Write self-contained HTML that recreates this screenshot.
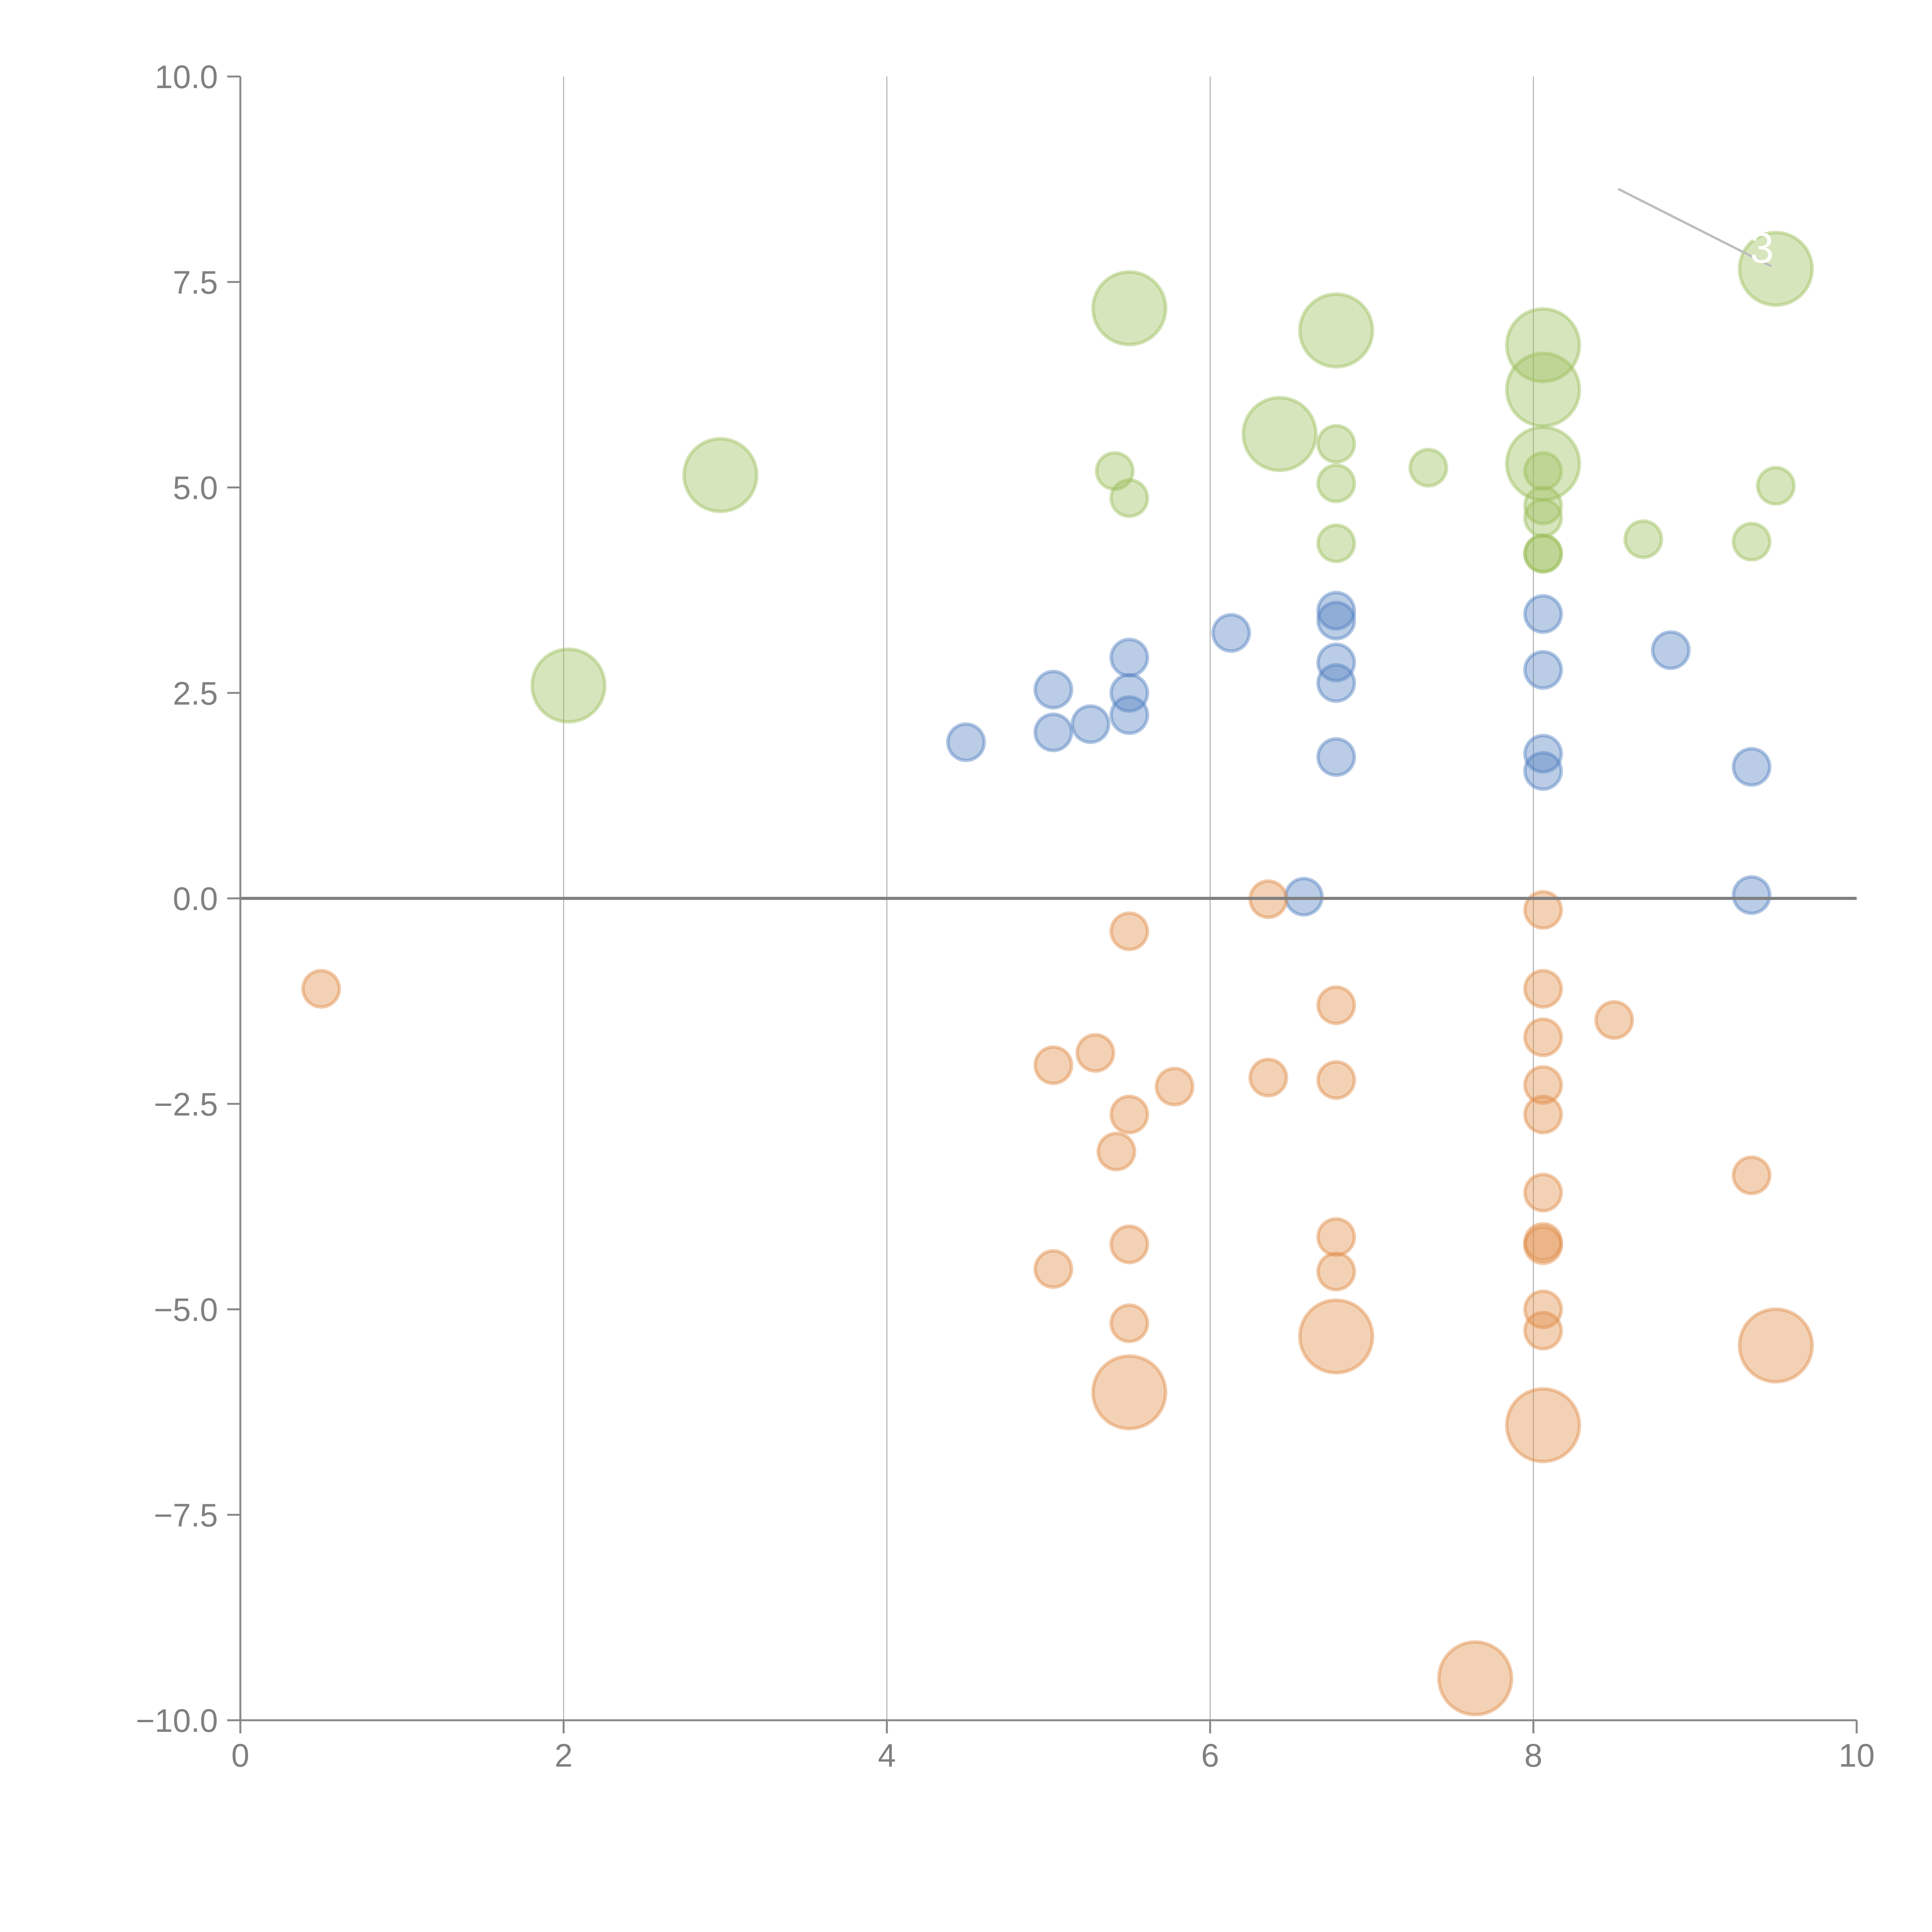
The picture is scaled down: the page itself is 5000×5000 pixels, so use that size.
<!DOCTYPE html>
<html><head><meta charset="utf-8"><style>
html,body{margin:0;padding:0;background:#fff;}
svg{display:block;}
text{font-family:"Liberation Sans",Arial,sans-serif;}
</style></head><body>
<svg id="chart" width="5000" height="5000" viewBox="0 0 5000 5000" xmlns="http://www.w3.org/2000/svg">
<rect width="5000" height="5000" fill="#fff"/>
<g id="grid"></g>
<g id="bubbles"></g>
<g id="axes"></g>
<g id="annot"></g>
</svg>
<script>
const xTicks = [0, 2, 4, 6, 8, 10];
const yTicks = [10, 7.5, 5, 2.5, 0, -2.5, -5, -7.5, -10];
const yTickLabels = ["10.0", "7.5", "5.0", "2.5", "0.0", "\u22122.5", "\u22125.0", "\u22127.5", "\u221210.0"];

const greenX = [5.50, 6.78, 8.06, 8.06, 8.06, 6.43, 2.97, 2.03, 9.50, 5.41, 5.50, 6.78, 6.78, 6.78, 7.35, 8.06, 8.06, 8.06, 8.06, 8.06, 8.68, 9.35, 9.50];
const greenY = [7.18, 6.91, 6.73, 6.19, 5.29, 5.65, 5.15, 2.59, 7.66, 5.20, 4.87, 5.53, 5.05, 4.32, 5.24, 5.20, 4.78, 4.63, 4.19, 4.20, 4.37, 4.34, 5.02];
const greenS = [4, 4, 4, 4, 4, 4, 4, 4, 4, 1, 1, 1, 1, 1, 1, 1, 1, 1, 1, 1, 1, 1, 1];

const blueX = [4.49, 5.03, 5.03, 5.26, 5.50, 5.50, 5.50, 6.13, 6.78, 6.78, 6.78, 6.78, 6.78, 6.58, 8.06, 8.06, 8.06, 8.06, 8.85, 9.35, 9.35];
const blueY = [1.90, 2.54, 2.02, 2.12, 2.93, 2.50, 2.23, 3.23, 3.50, 3.38, 2.87, 2.62, 1.72, 0.02, 3.46, 2.78, 1.76, 1.55, 3.02, 1.60, 0.04];
const blueS = [1, 1, 1, 1, 1, 1, 1, 1, 1, 1, 1, 1, 1, 1, 1, 1, 1, 1, 1, 1, 1];

const orangeX = [0.50, 5.50, 6.36, 8.06, 6.78, 8.06, 8.06, 8.50, 5.03, 5.29, 5.78, 6.36, 6.78, 8.06, 5.50, 8.06, 5.42, 8.06, 9.35, 6.78, 8.06, 8.06, 5.50, 5.03, 6.78, 8.06, 8.06, 5.50, 6.78, 9.50, 5.50, 8.06, 7.64];
const orangeY = [-1.10, -0.40, -0.01, -0.14, -1.30, -1.10, -1.69, -1.48, -2.03, -1.88, -2.29, -2.18, -2.21, -2.27, -2.63, -2.63, -3.08, -3.58, -3.37, -4.12, -4.18, -4.22, -4.21, -4.51, -4.54, -5.00, -5.26, -5.17, -5.33, -5.44, -6.01, -6.41, -9.49];
const orangeS = [1, 1, 1, 1, 1, 1, 1, 1, 1, 1, 1, 1, 1, 1, 1, 1, 1, 1, 1, 1, 1, 1, 1, 1, 1, 1, 1, 1, 4, 4, 4, 4, 4];

const NS = "http://www.w3.org/2000/svg";
const X0 = 622, X1 = 4805, Y0 = 4452, Y1 = 198;
function sx(v){ return X0 + (v - 0) / 10 * (X1 - X0); }
function sy(v){ return Y0 - (v + 10) / 20 * (Y0 - Y1); }
function rad(s){ return 47 * Math.sqrt(s); }
function mk(tag, attrs, parent){
  const e = document.createElementNS(NS, tag);
  for (const k in attrs) e.setAttribute(k, attrs[k]);
  parent.appendChild(e);
  return e;
}
const grid = document.getElementById('grid');
const bub = document.getElementById('bubbles');
const axes = document.getElementById('axes');
const annot = document.getElementById('annot');

xTicks.forEach(function(t){
  if (t === 0 || t === 10) return;
  if (t % 2 === 0) {
    const l = mk('line', {x1: sx(t), x2: sx(t), y1: Y1, y2: Y0, stroke: '#999', 'stroke-width': 2}, grid);
    
    
  }
});

function series(xs, ys, ss, color, name){
  for (let i = 0; i < xs.length; i++) {
    const c = mk('circle', {cx: sx(xs[i]), cy: sy(ys[i]), r: rad(ss[i]), fill: color, 'fill-opacity': 0.4, stroke: color, 'stroke-opacity': 0.45, 'stroke-width': 9}, bub);
    
    
  }
}
series(greenX, greenY, greenS, 'rgb(155,190,90)', 'green');
series(blueX, blueY, blueS, 'rgb(82,128,192)', 'blue');
series(orangeX, orangeY, orangeS, 'rgb(225,140,70)', 'orange');

// zero line
const z = mk('line', {x1: X0, x2: X1, y1: sy(0), y2: sy(0), stroke: '#808080', 'stroke-width': 8}, axes);


// axis lines
const ya = mk('line', {x1: X0, x2: X0, y1: Y1, y2: Y0, stroke: '#888', 'stroke-width': 5}, axes);


const xa = mk('line', {x1: X0, x2: X1, y1: Y0, y2: Y0, stroke: '#888', 'stroke-width': 5}, axes);



yTicks.forEach(function(t, i){
  const tk = mk('line', {x1: X0 - 34, x2: X0, y1: sy(t), y2: sy(t), stroke: '#888', 'stroke-width': 5}, axes);
  
  
  const tx = mk('text', {x: X0 - 58, y: sy(t) + 30, 'text-anchor': 'end', 'font-size': 84, fill: '#808080'}, axes);
  tx.textContent = yTickLabels[i];
  
  
});
xTicks.forEach(function(t){
  const tk = mk('line', {x1: sx(t), x2: sx(t), y1: Y0, y2: Y0 + 34, stroke: '#888', 'stroke-width': 5}, axes);
  
  
  const tx = mk('text', {x: sx(t), y: Y0 + 120, 'text-anchor': 'middle', 'font-size': 84, fill: '#808080'}, axes);
  tx.textContent = String(t);
  
  
});

// label leader lines
const gl = mk('line', {x1: 4190, y1: 490, x2: 4582, y2: 688, stroke: '#bdbdbd', 'stroke-width': 6, 'stroke-linecap': 'round'}, annot);


const lbl = mk('text', {x: 4560, y: 680, 'text-anchor': 'middle', 'font-size': 110, fill: '#fff'}, annot);
lbl.textContent = '3';


</script>
</body></html>
